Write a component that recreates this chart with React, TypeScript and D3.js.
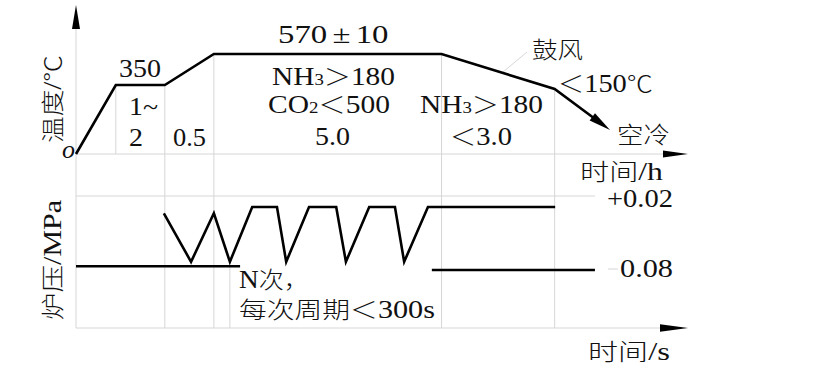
import React, { useLayoutEffect, useRef, useState } from "react";
import * as d3 from "d3";

// ---- data (schematic time units / values) ----
const tempTimes = [0, 0.82, 1.83, 2.84, 7.53, 9.86, 11.0];
const tempValues = [0, 350, 350, 570, 570, 330, 122];
const stageTimes = [0.82, 1.83, 2.84, 7.53, 9.86];

const pressBaseTimes = [0, 3.38];
const pressBaseValues = [-0.074, -0.074];
const pressZigTimes = [1.81, 2.37, 2.84, 3.17, 3.63, 4.14, 4.33, 4.8, 5.36, 5.56, 6.04, 6.57, 6.76, 7.25, 9.87];
const pressZigValues = [0.01, -0.067, 0.01, -0.067, 0.02, 0.02, -0.067, 0.02, 0.02, -0.067, 0.02, 0.02, -0.067, 0.02, 0.02];
const pressLowTimes = [7.33, 10.69];
const pressLowValues = [-0.08, -0.08];
const pressTickLabels = ["+0.02", "0.08"];

const W = 822;
const H = 383;
const FONT = "'Liberation Serif', 'Noto Sans CJK SC', serif";
const CJK_FONT = "'Noto Sans CJK SC', serif";
const GRID = "#d6d6d6";
const INK = "#111";
const LATIN_SIZE = 25;
const CJK_SIZE = 23;

const x = d3.scaleLinear().domain([0, 11]).range([76, 610]);
const yT = d3.scaleLinear().domain([0, 350, 570]).range([154, 85, 54]);
const yP = d3.scaleLinear().domain([-0.08, 0.02]).range([270, 207]);

const axisTop = 5;
const axisEndTop = 688;
const bottomPanelTop = 196;
const bottomAxisY = 328;

const CJK_RE = /[\u2103\u3000-\u9fff\uff00-\uffef]/;

function M(s: string) {
  const out: React.ReactNode[] = [];
  let cur = "";
  let curCjk: boolean | null = null;
  const flush = () => {
    if (cur) {
      out.push(
        curCjk ? (
          <tspan key={out.length} fontSize={CJK_SIZE} fontFamily={CJK_FONT} fontWeight={300}>{cur}</tspan>
        ) : (
          <tspan key={out.length} fontSize={LATIN_SIZE}>{cur}</tspan>
        )
      );
    }
    cur = "";
  };
  for (const ch of s) {
    const c = CJK_RE.test(ch);
    if (curCjk !== null && c !== curCjk) flush();
    curCjk = c;
    cur += ch;
  }
  flush();
  return out;
}

function FitText(props: {
  x: number; y: number; w: number; rotate?: boolean;
  children: React.ReactNode;
}) {
  const ref = useRef<SVGTextElement>(null);
  const [s, setS] = useState(1);
  useLayoutEffect(() => {
    if (ref.current) {
      const n = ref.current.getComputedTextLength();
      if (n > 0) setS(props.w / n);
    }
  }, [props.w]);
  const rot = props.rotate ? " rotate(-90)" : "";
  return (
    <text
      ref={ref}
      transform={`translate(${props.x},${props.y})${rot} scale(${s},1)`}
      fontSize={LATIN_SIZE}
      fontFamily={FONT}
      fill={INK}
    >
      {typeof props.children === "string" ? M(props.children) : props.children}
    </text>
  );
}

function arrowHead(tx: number, ty: number, fx: number, fy: number, len: number, half: number) {
  const dx = tx - fx, dy = ty - fy;
  const l = Math.hypot(dx, dy);
  const ux = dx / l, uy = dy / l;
  const bx = tx - ux * len, by = ty - uy * len;
  return `${tx},${ty} ${bx - uy * half},${by + ux * half} ${bx + uy * half},${by - ux * half}`;
}

export default function App() {
  const tempPts: [number, number][] = tempTimes.map((t, i) => [x(t), yT(tempValues[i])]);
  const line = d3.line();
  const n = tempPts.length;
  const [ex, ey] = tempPts[n - 1];
  const [px, py] = tempPts[n - 2];
  const dl = Math.hypot(ex - px, ey - py);
  const shaftEnd: [number, number] = [ex - ((ex - px) / dl) * 16, ey - ((ey - py) / dl) * 16];
  const tempLinePts = [...tempPts.slice(0, n - 1), shaftEnd];

  const zig = pressZigTimes.map((t, i) => [x(t), yP(pressZigValues[i])] as [number, number]);
  const base = pressBaseTimes.map((t, i) => [x(t), yP(pressBaseValues[i])] as [number, number]);
  const low = pressLowTimes.map((t, i) => [x(t), yP(pressLowValues[i])] as [number, number]);

  const y0 = yT(0);
  const sub = (s: string) => <tspan fontSize={16}>{s}</tspan>;

  return (
    <svg width={W} height={H} style={{ position: "absolute", left: 0, top: 0, background: "#fff" }}>
      {/* grid / axes */}
      <g stroke={GRID} strokeWidth={1} fill="none">
        <line x1={x(0)} x2={x(0)} y1={axisTop + 20} y2={bottomAxisY} />
        <line x1={x(0)} x2={axisEndTop - 20} y1={y0} y2={y0} />
        <line x1={x(0)} x2={x(pressLowTimes[1])} y1={bottomPanelTop} y2={bottomPanelTop} />
        <line x1={x(0)} x2={axisEndTop - 25} y1={bottomAxisY} y2={bottomAxisY} />
        {stageTimes.map((t, i) => {
          const idx = tempTimes.indexOf(t);
          const top = yT(tempValues[idx]);
          const bottom = i === 0 ? y0 : bottomAxisY;
          return <line key={i} x1={x(t)} x2={x(t)} y1={top} y2={bottom} />;
        })}
        <line x1={x(pressZigTimes[3])} x2={x(pressZigTimes[3])} y1={yP(pressZigValues[3])} y2={bottomAxisY} />
        <line x1={527} y1={52} x2={503} y2={72} />
        <line x1={608} x2={618} y1={269} y2={269} />
      </g>
      {/* arrowheads */}
      <g fill="#000">
        <polygon points={arrowHead(x(0), axisTop, x(0), 100, 24, 4)} />
        <polygon points={arrowHead(axisEndTop, y0, 600, y0, 25, 3.5)} />
        <polygon points={arrowHead(axisEndTop, bottomAxisY, 600, bottomAxisY, 28, 3.8)} />
        <polygon points={arrowHead(ex, ey, px, py, 22, 4.5)} />
      </g>
      {/* curves */}
      <g stroke="#000" strokeWidth={2.6} fill="none" strokeLinejoin="miter">
        <path d={line(tempLinePts) || ""} />
        <path d={line(base) || ""} />
        <path d={line(zig) || ""} />
        <path d={line(low) || ""} />
      </g>
      {/* labels */}
      <text x={62} y={158} fontSize={26} fontStyle="italic" fontFamily={FONT} fill={INK}>o</text>
      <FitText x={119} y={77} w={42}>350</FitText>
      <FitText x={129} y={115} w={29}>1~</FitText>
      <FitText x={129} y={146} w={14}>2</FitText>
      <FitText x={173} y={146} w={33}>0.5</FitText>
      <FitText x={278} y={43} w={100}>570<tspan dx={4}>±</tspan><tspan dx={4}>10</tspan></FitText>
      <FitText x={272} y={85} w={123}>{M("NH")}{sub("3")}{M("＞180")}</FitText>
      <FitText x={268} y={113} w={122}>{M("CO")}{sub("2")}{M("＜500")}</FitText>
      <FitText x={315} y={145} w={35}>5.0</FitText>
      <FitText x={420} y={113} w={123}>{M("NH")}{sub("3")}{M("＞180")}</FitText>
      <FitText x={450} y={145} w={62}>＜3.0</FitText>
      <FitText x={532} y={58} w={51}>鼓风</FitText>
      <FitText x={558} y={92} w={95}>＜150℃</FitText>
      <FitText x={617} y={143} w={53}>空冷</FitText>
      <FitText x={580} y={180} w={83}>时间/h</FitText>
      <FitText x={607} y={207} w={66}>{pressTickLabels[0]}</FitText>
      <FitText x={620} y={277} w={53}>{pressTickLabels[1]}</FitText>
      <FitText x={239} y={288} w={70}>N次，</FitText>
      <FitText x={239} y={318} w={196}>每次周期＜300s</FitText>
      <FitText x={588} y={360} w={82}>时间/s</FitText>
      <FitText x={61} y={143} w={88} rotate>温度/℃</FitText>
      <FitText x={61} y={320} w={120} rotate>炉压/MPa</FitText>
    </svg>
  );
}
